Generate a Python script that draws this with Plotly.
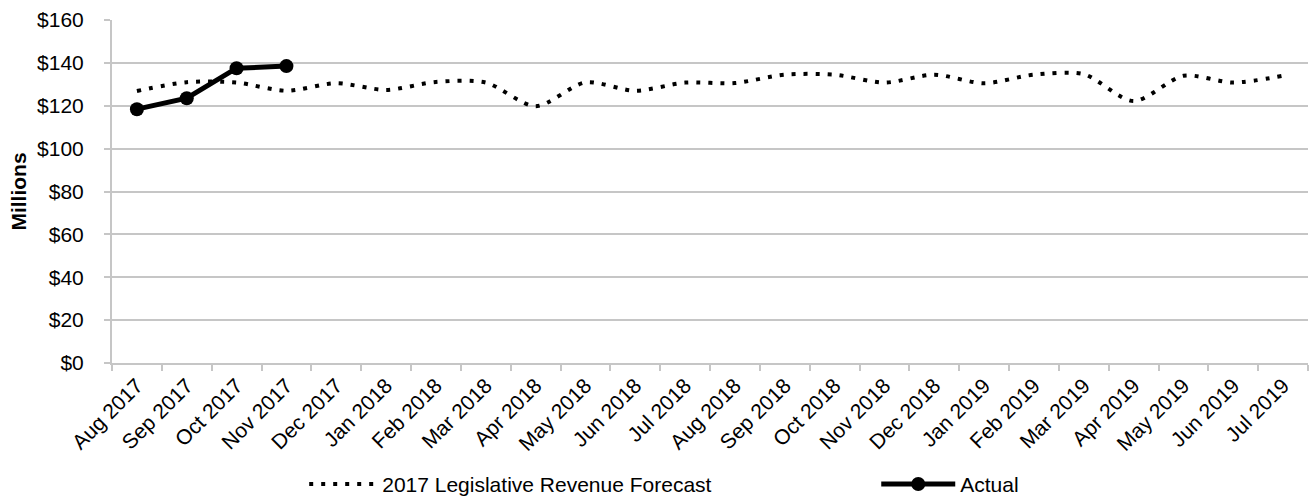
import plotly.graph_objects as go

months = ["Aug 2017", "Sep 2017", "Oct 2017", "Nov 2017", "Dec 2017", "Jan 2018",
          "Feb 2018", "Mar 2018", "Apr 2018", "May 2018", "Jun 2018", "Jul 2018",
          "Aug 2018", "Sep 2018", "Oct 2018", "Nov 2018", "Dec 2018", "Jan 2019",
          "Feb 2019", "Mar 2019", "Apr 2019", "May 2019", "Jun 2019", "Jul 2019"]

forecast = [126.9, 131.0, 130.8, 127.0, 130.5, 127.4, 131.1, 130.8, 119.8, 130.9,
            127.0, 130.8, 130.6, 134.5, 134.5, 130.8, 134.5, 130.5, 134.5, 134.7,
            122.2, 134.0, 130.8, 134.0]

actual_months = ["Aug 2017", "Sep 2017", "Oct 2017", "Nov 2017"]
actual = [118.4, 123.5, 137.5, 138.5]

FONT = "Liberation Sans, Arial, sans-serif"
FS = 21
GRID = "#c6c6c6"

fig = go.Figure()
fig.add_trace(go.Scatter(
    x=months, y=forecast, mode="lines", name="2017 Legislative Revenue Forecast",
    line=dict(color="black", width=4, dash="4px,8px", shape="spline", smoothing=0.8),
    legend="legend",
))
fig.add_trace(go.Scatter(
    x=actual_months, y=actual, mode="lines+markers", name="Actual",
    line=dict(color="black", width=5),
    marker=dict(color="black", size=14),
    legend="legend2",
))

fig.update_layout(
    width=1310, height=497,
    margin=dict(l=112, r=2, t=20, b=134, autoexpand=False),
    paper_bgcolor="white", plot_bgcolor="white",
    font=dict(family=FONT, size=FS, color="black"),
    showlegend=True,
    legend=dict(orientation="h", x=0.1607, xanchor="left", y=-0.354, yanchor="middle",
                itemwidth=68, bgcolor="rgba(0,0,0,0)",
                font=dict(family=FONT, size=FS, color="black")),
    legend2=dict(orientation="h", x=0.639, xanchor="left", y=-0.354, yanchor="middle",
                 itemwidth=74, bgcolor="rgba(0,0,0,0)",
                 font=dict(family=FONT, size=FS, color="black")),
    xaxis=dict(type="category", categoryorder="array", categoryarray=months,
               tickangle=-45, ticks="outside", tickson="boundaries", ticklen=6,
               tickcolor=GRID, tickwidth=2, showgrid=False, automargin=False,
               showline=True, linecolor=GRID, linewidth=2,
               tickfont=dict(family=FONT, size=FS, color="black"),
               range=[-0.5, 23.5]),
    yaxis=dict(range=[0, 160], dtick=20, tickprefix="$", showgrid=True,
               gridcolor=GRID, gridwidth=1.5, zeroline=False, automargin=False,
               showline=True, linecolor=GRID, linewidth=2,
               ticks="outside", ticklen=6, tickcolor=GRID, tickwidth=2,
               ticklabelstandoff=16,
               tickfont=dict(family=FONT, size=FS, color="black"),
               title=dict(text="<b>Millions</b>", standoff=5,
                          font=dict(family=FONT, size=FS, color="black"))),
)

fig.write_html("out.html",
               config={"displayModeBar": False},
               post_script="document.body.style.margin='0';document.body.style.padding='0';")
